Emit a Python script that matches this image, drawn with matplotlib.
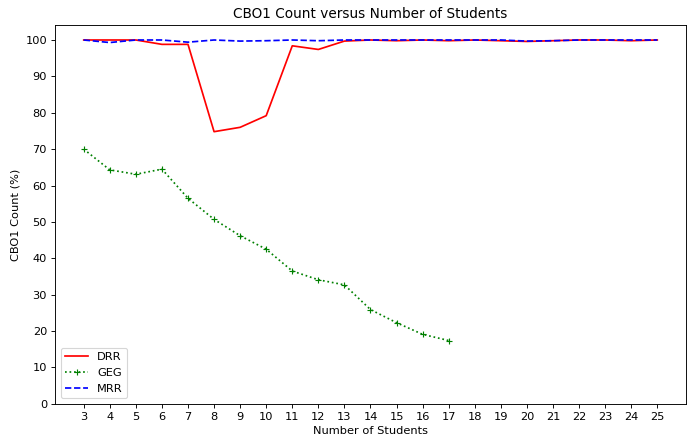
import numpy as np
import matplotlib
matplotlib.use("Agg")
import matplotlib.pyplot as plt

# data
students = list(range(3, 26))
drr = [100, 100, 100, 98.8, 98.8, 74.8, 76.0, 79.2, 98.4, 97.4, 99.7, 100,
       99.8, 100, 99.8, 100, 99.8, 99.6, 99.8, 100, 100, 99.8, 100]
mrr = [100, 99.3, 100, 100, 99.4, 100, 99.7, 99.8, 100, 99.8, 100, 100,
       100, 100, 100, 100, 100, 99.7, 99.8, 100, 100, 100, 100]
geg_students = list(range(3, 18))
geg = [70.0, 64.3, 63.1, 64.5, 56.5, 50.7, 46.2, 42.5, 36.5, 34.1, 32.7,
       25.9, 22.3, 19.1, 17.4]

DPI = 82
fig = plt.figure(figsize=(688 / DPI, 438 / DPI), dpi=DPI)
ax = fig.add_axes([0.08, 0.078, 0.917, 0.865])

ax.plot(students, drr, color="red", linestyle="-", label="DRR")
ax.plot(geg_students, geg, color="green", linestyle=":", marker="+", label="GEG")
ax.plot(students, mrr, color="blue", linestyle="--", label="MRR")

ax.set_title("CBO1 Count versus Number of Students")
ax.set_xlabel("Number of Students")
ax.set_ylabel("CBO1 Count (%)")
ax.set_xticks(students)
ax.set_yticks(np.arange(0, 101, 10))
ax.set_ylim(bottom=0)
ax.legend(loc="lower left")

fig.savefig("out.png", dpi=DPI)
